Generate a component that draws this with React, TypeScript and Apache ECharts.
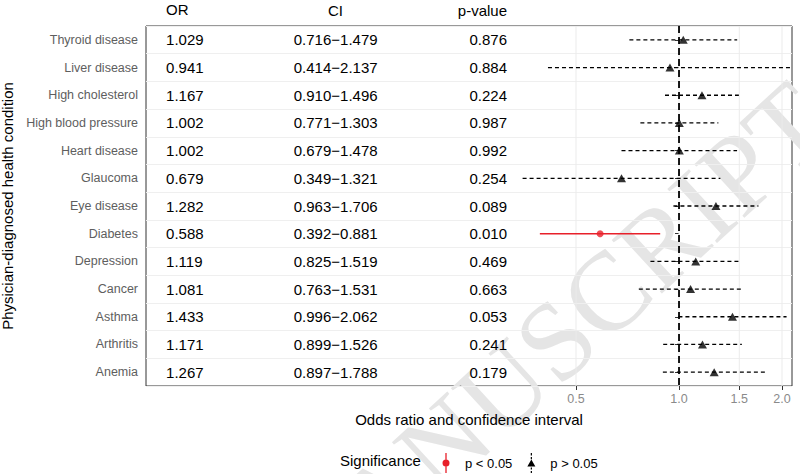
import React, { useEffect, useRef } from 'react';
import * as echarts from 'echarts';

// ---- Data ----
const conditions = [
  'Thyroid disease',
  'Liver disease',
  'High cholesterol',
  'High blood pressure',
  'Heart disease',
  'Glaucoma',
  'Eye disease',
  'Diabetes',
  'Depression',
  'Cancer',
  'Asthma',
  'Arthritis',
  'Anemia',
];
const oddsRatio = [1.029, 0.941, 1.167, 1.002, 1.002, 0.679, 1.282, 0.588, 1.119, 1.081, 1.433, 1.171, 1.267];
const ciLower = [0.716, 0.414, 0.91, 0.771, 0.679, 0.349, 0.963, 0.392, 0.825, 0.763, 0.996, 0.899, 0.897];
const ciUpper = [1.479, 2.137, 1.496, 1.303, 1.478, 1.321, 1.706, 0.881, 1.519, 1.531, 2.062, 1.526, 1.788];
const pValues = [0.876, 0.884, 0.224, 0.987, 0.992, 0.254, 0.089, 0.01, 0.469, 0.663, 0.053, 0.241, 0.179];
const xTicks = [0.5, 1.0, 1.5, 2.0];
const columnHeaders = ['OR', 'CI', 'p-value'];
const legendNames = ['p < 0.05', 'p > 0.05'];

// ---- Layout / style constants ----
const X_MIN = 0.02768; // axis limits on the odds-ratio scale (log axis)
const X_MAX = 2.139;
const COL_OR_X = 0.03168; // table column anchors on the odds-ratio scale
const COL_CI_X = 0.0992;
const COL_P_X = 0.3142;
const FONT = '"Liberation Sans", Arial, Helvetica, sans-serif';
const RED = '#e8202a';

const lg = (v: number) => Math.log2(v);

export default function App() {
  const ref = useRef<HTMLDivElement>(null);

  useEffect(() => {
    document.body.style.margin = '0';
    if (!ref.current) return;
    const chart = echarts.init(ref.current, null, { renderer: 'svg' });

    const idx = conditions.map((_, i) => i);
    const sig = idx.filter((i) => pValues[i] < 0.05);
    const nonsig = idx.filter((i) => pValues[i] >= 0.05);

    const errRender = (stroke: string, lineWidth: number, lineDash: number[] | null) =>
      (params: any, api: any) => {
        const c = api.value(0);
        const p1 = api.coord([api.value(1), c]);
        const p2 = api.coord([api.value(2), c]);
        return {
          type: 'line',
          shape: { x1: p1[0], y1: p1[1], x2: p2[0], y2: p2[1] },
          style: { stroke, lineWidth, lineDash: lineDash || undefined },
        };
      };

    const textSeries = (xVal: number, align: string, fmt: (i: number) => string) => ({
      type: 'custom',
      silent: true,
      clip: false,
      z: 3,
      encode: { x: 1, y: 0 },
      data: conditions.map((c) => [c, lg(xVal)]),
      renderItem: (params: any, api: any) => {
        const p = api.coord([api.value(1), api.value(0)]);
        return {
          type: 'text',
          x: p[0],
          y: p[1],
          style: {
            text: fmt(params.dataIndex),
            fill: '#000',
            fontSize: 15,
            fontFamily: FONT,
            align,
            verticalAlign: 'middle',
          },
        };
      },
    });

    const vLineRender = (stroke: string, lineWidth: number, lineDash: number[] | null) =>
      (params: any, api: any) => {
        const cs = params.coordSys;
        const x = api.coord([api.value(0), 0])[0];
        return {
          type: 'line',
          shape: { x1: x, y1: cs.y, x2: x, y2: cs.y + cs.height },
          style: { stroke, lineWidth, lineDash: lineDash || undefined },
        };
      };

    const redIcon =
      'path://M3.35,0 L4.65,0 L4.65,20 L3.35,20 Z M4,6.5 A3.5,3.5 0 1 1 4,13.5 A3.5,3.5 0 1 1 4,6.5 Z M0,10 L0.01,10 L0.01,10.01 Z M7.99,10 L8,10 L8,10.01 Z';
    const blackIcon =
      'path://M3.4,0 L4.6,0 L4.6,2.5 L3.4,2.5 Z M3.4,4 L4.6,4 L4.6,6.2 L3.4,6.2 Z M4,6.5 L8,13.5 L0,13.5 Z M3.4,14.5 L4.6,14.5 L4.6,16.5 L3.4,16.5 Z M3.4,18 L4.6,18 L4.6,20 L3.4,20 Z';

    const option: any = {
      animation: false,
      textStyle: { fontFamily: FONT },
      grid: {
        left: 146,
        right: 8,
        top: 26,
        bottom: 88,
        show: true,
        borderColor: '#333',
        borderWidth: 1,
        backgroundColor: 'transparent',
        containLabel: false,
        outerBoundsMode: 'none',
      },
      xAxis: {
        type: 'value',
        min: lg(X_MIN),
        max: lg(X_MAX),
        axisLine: { show: false },
        splitLine: { show: false },
        axisTick: {
          show: true,
          customValues: xTicks.map(lg),
          length: 4,
          lineStyle: { color: '#333', width: 1 },
        },
        axisLabel: {
          customValues: xTicks.map(lg),
          formatter: (v: number) => Math.pow(2, v).toFixed(1),
          color: '#8a8a8a',
          fontSize: 12.5,
          margin: 6,
          fontFamily: FONT,
        },
        name: 'Odds ratio and confidence interval',
        nameLocation: 'middle',
        nameGap: 26,
        nameTextStyle: { fontSize: 15, color: '#000', fontFamily: FONT },
      },
      yAxis: {
        type: 'category',
        data: conditions,
        inverse: true,
        axisLine: { show: false },
        axisTick: {
          show: true,
          alignWithLabel: true,
          length: 4,
          lineStyle: { color: '#333', width: 1 },
        },
        axisLabel: { color: '#5e5e5e', fontSize: 12.5, margin: 8, fontFamily: FONT },
        splitLine: { show: true, lineStyle: { color: '#efefef', width: 1 } },
        name: 'Physician-diagnosed health condition',
        nameLocation: 'middle',
        nameGap: 123,
        nameRotate: 90,
        nameTextStyle: { fontSize: 15, color: '#000', fontFamily: FONT },
      },
      legend: {
        left: 437,
        top: 448,
        itemWidth: 8,
        itemHeight: 20,
        itemGap: 15,
        selectedMode: false,
        textStyle: { fontSize: 13, color: '#000', fontFamily: FONT, padding: [0, 0, 0, 10] },
        data: [
          { name: legendNames[0], icon: redIcon, itemStyle: { color: RED, borderWidth: 0 } },
          { name: legendNames[1], icon: blackIcon, itemStyle: { color: '#000', borderWidth: 0 } },
        ],
      },
      graphic: [
        {
          type: 'text',
          z: 0,
          silent: true,
          x: 812,
          y: 104,
          rotation: (42.6 * Math.PI) / 180,
          style: {
            text: 'ACCEPTED MANUSCRIPT',
            fontSize: 112,
            fontFamily: '"Liberation Serif", "DejaVu Serif", serif',
            fill: '#e5e5e5',
            align: 'right',
            verticalAlign: 'middle',
          },
        },
        {
          type: 'text',
          left: 166,
          top: 2,
          style: { text: columnHeaders[0], fontSize: 15, fill: '#000', fontFamily: FONT },
        },
        {
          type: 'text',
          x: 335.5,
          y: 10,
          style: { text: columnHeaders[1], fontSize: 15, fill: '#000', fontFamily: FONT, align: 'center', verticalAlign: 'middle' },
        },
        {
          type: 'text',
          x: 507,
          y: 10,
          style: { text: columnHeaders[2], fontSize: 15, fill: '#000', fontFamily: FONT, align: 'right', verticalAlign: 'middle' },
        },
        {
          type: 'text',
          x: 340,
          y: 460,
          style: { text: 'Significance', fontSize: 15, fill: '#000', fontFamily: FONT, align: 'left', verticalAlign: 'middle' },
        },
      ],
      series: [
        {
          type: 'custom',
          silent: true,
          z: 1,
          clip: true,
          encode: { x: 0 },
          data: xTicks.map((v) => [lg(v)]),
          renderItem: vLineRender('#ebebeb', 1, null),
        },
        textSeries(COL_OR_X, 'left', (i) => oddsRatio[i].toFixed(3)),
        textSeries(COL_CI_X, 'center', (i) => `${ciLower[i].toFixed(3)}\u2212${ciUpper[i].toFixed(3)}`),
        textSeries(COL_P_X, 'right', (i) => pValues[i].toFixed(3)),
        {
          type: 'custom',
          name: legendNames[0],
          silent: true,
          z: 2,
          clip: true,
          encode: { x: [1, 2], y: 0 },
          data: sig.map((i) => [conditions[i], lg(ciLower[i]), lg(ciUpper[i])]),
          renderItem: errRender(RED, 1.5, null),
          itemStyle: { color: RED },
        },
        {
          type: 'custom',
          name: legendNames[1],
          silent: true,
          z: 2,
          clip: true,
          encode: { x: [1, 2], y: 0 },
          data: nonsig.map((i) => [conditions[i], lg(ciLower[i]), lg(ciUpper[i])]),
          renderItem: errRender('#000', 1.3, [4, 3]),
          itemStyle: { color: '#000' },
        },
        {
          type: 'custom',
          silent: true,
          z: 4,
          clip: true,
          encode: { x: 0 },
          data: [[lg(1)]],
          renderItem: vLineRender('#000', 1.8, [7, 4]),
        },
        {
          type: 'scatter',
          name: legendNames[0],
          silent: true,
          z: 5,
          symbol: 'circle',
          symbolSize: 7,
          itemStyle: { color: RED },
          data: sig.map((i) => [lg(oddsRatio[i]), conditions[i]]),
        },
        {
          type: 'scatter',
          name: legendNames[1],
          silent: true,
          z: 5,
          symbol: 'triangle',
          symbolSize: [9, 8],
          itemStyle: { color: '#000' },
          data: nonsig.map((i) => [lg(oddsRatio[i]), conditions[i]]),
        },
      ],
    };

    chart.setOption(option);
    return () => chart.dispose();
  }, []);

  return <div ref={ref} style={{ width: 800, height: 474 }} />;
}
